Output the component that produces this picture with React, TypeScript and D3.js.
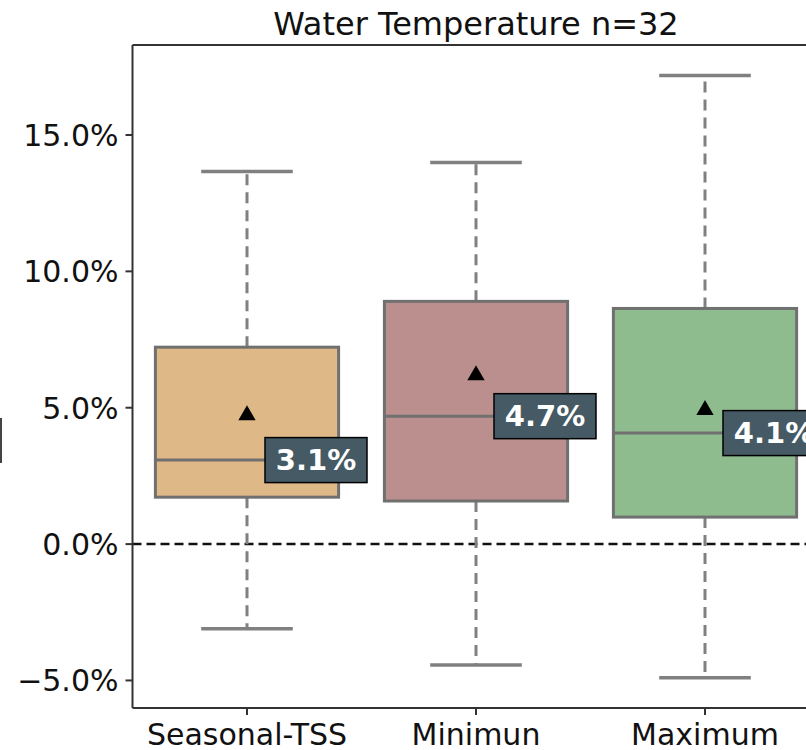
import React from "react";
import * as d3 from "d3";

const categories = ["Seasonal-TSS", "Minimun", "Maximum"];
const whiskerLow = [-3.1, -4.43, -4.9];
const q1 = [1.72, 1.58, 0.99];
const medians = [3.08, 4.69, 4.07];
const q3 = [7.22, 8.9, 8.64];
const whiskerHigh = [13.66, 13.99, 17.18];
const means = [4.76, 6.23, 4.95];
const colors = ["#deb887", "#bc8f8f", "#8fbc8f"];
const yTicks = [-5, 0, 5, 10, 15];
const title = "Water Temperature n=32";

const W = 806;
const H = 750;
const left = 132.5;
const top = 45;
const bottom = 708;
const step = 229;
const right = left + step * 3;

export default function App() {
  const x = d3.scaleBand<string>().domain(categories).range([left, right]).paddingInner(0).paddingOuter(0);
  const y = d3.scaleLinear().domain([-6.01, 18.3]).range([bottom, top]);
  const bw = x.bandwidth() * 0.8;
  const capW = x.bandwidth() * 0.4;
  const font = "DejaVu Sans, sans-serif";
  const tri = d3.symbol().type(d3.symbolTriangle).size(130)() as string;

  return (
    <svg width={W} height={H} style={{ position: "absolute", left: 0, top: 0, background: "#fff" }}>
      <rect x={0} y={0} width={W} height={H} fill="#fff" />
      {/* partial y label stroke */}
      <line x1={1} x2={1} y1={418} y2={463} stroke="#444" strokeWidth={2} />
      <text x={(left + right) / 2} y={35} textAnchor="middle" fontFamily={font} fontSize={32} fill="#111">{title}</text>
      {/* zero line */}
      <line x1={left} x2={right} y1={y(0)} y2={y(0)} stroke="#111" strokeWidth={2.5} strokeDasharray="9,5" />
      {categories.map((c, i) => {
        const cx = (x(c) as number) + x.bandwidth() / 2;
        const label = `${medians[i].toFixed(1)}%`;
        return (
          <g key={c}>
            <line x1={cx} x2={cx} y1={y(q3[i])} y2={y(whiskerHigh[i])} stroke="#808080" strokeWidth={3} strokeDasharray="11,7" />
            <line x1={cx} x2={cx} y1={y(q1[i])} y2={y(whiskerLow[i])} stroke="#808080" strokeWidth={3} strokeDasharray="11,7" />
            <line x1={cx - capW / 2} x2={cx + capW / 2} y1={y(whiskerHigh[i])} y2={y(whiskerHigh[i])} stroke="#808080" strokeWidth={3.5} />
            <line x1={cx - capW / 2} x2={cx + capW / 2} y1={y(whiskerLow[i])} y2={y(whiskerLow[i])} stroke="#808080" strokeWidth={3.5} />
            <rect x={cx - bw / 2} y={y(q3[i])} width={bw} height={y(q1[i]) - y(q3[i])} fill={colors[i]} stroke="#707070" strokeWidth={3} />
            <line x1={cx - bw / 2} x2={cx + bw / 2} y1={y(medians[i])} y2={y(medians[i])} stroke="#707070" strokeWidth={3} />
            <path d={tri} transform={`translate(${cx},${y(means[i]) + 1})`} fill="#000" />
            <rect x={cx + 18} y={y(medians[i]) - 22.5} width={102} height={45} fill="#455a64" stroke="#000" strokeWidth={1.5} />
            <text x={cx + 69} y={y(medians[i]) + 10} textAnchor="middle" fontFamily={font} fontSize={29} fontWeight="bold" fill="#fff">{label}</text>
          </g>
        );
      })}
      {/* spines */}
      <line x1={left} x2={left} y1={top} y2={bottom} stroke="#333" strokeWidth={2} />
      <line x1={left} x2={right} y1={top} y2={top} stroke="#333" strokeWidth={2} />
      <line x1={left} x2={right} y1={bottom} y2={bottom} stroke="#333" strokeWidth={2} />
      <line x1={right} x2={right} y1={top} y2={bottom} stroke="#333" strokeWidth={2} />
      {yTicks.map((t) => (
        <g key={t}>
          <line x1={left - 7} x2={left} y1={y(t)} y2={y(t)} stroke="#333" strokeWidth={2} />
          <text x={left - 14} y={y(t) + 11} textAnchor="end" fontFamily={font} fontSize={30} fill="#111">
            {`${t < 0 ? "\u2212" : ""}${Math.abs(t).toFixed(1)}%`}
          </text>
        </g>
      ))}
      {categories.map((c) => {
        const cx = (x(c) as number) + x.bandwidth() / 2;
        return (
          <g key={c}>
            <line x1={cx} x2={cx} y1={bottom} y2={bottom + 7} stroke="#333" strokeWidth={2} />
            <text x={cx} y={745} textAnchor="middle" fontFamily={font} fontSize={30} fill="#111">{c}</text>
          </g>
        );
      })}
    </svg>
  );
}
